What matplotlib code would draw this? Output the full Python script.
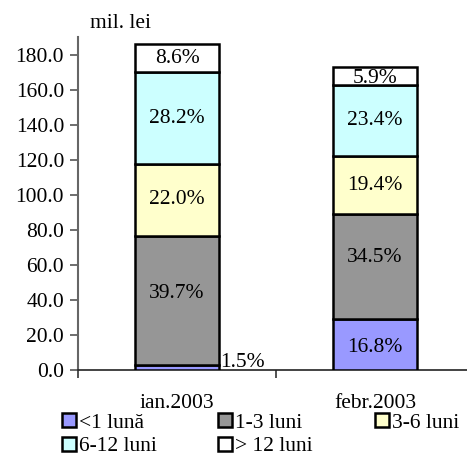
import matplotlib
matplotlib.use("Agg")
import matplotlib.pyplot as plt
from matplotlib.patches import Patch
import numpy as np

plt.rcParams['font.family'] = ['Liberation Serif', 'DejaVu Serif']

categories = ["ian.2003", "febr.2003"]
series_names = ["<1 lună", "1-3 luni", "3-6 luni", "6-12 luni", "> 12 luni"]
totals = [186.0, 173.0]
pct = {
    "<1 lună":   [1.5, 16.8],
    "1-3 luni":  [39.7, 34.5],
    "3-6 luni":  [22.0, 19.4],
    "6-12 luni": [28.2, 23.4],
    "> 12 luni": [8.6, 5.9],
}
colors = ["#9999FF", "#969696", "#FFFFCC", "#CCFFFF", "#FFFFFF"]
yticks = [0, 20, 40, 60, 80, 100, 120, 140, 160, 180]

# small vertical nudges of label positions (data units), style only
label_nudge = {("1-3 luni", 0): 4.0, ("1-3 luni", 1): 5.0, ("<1 lună", 1): -1.5,
               ("> 12 luni", 1): -1.8}

FS = 15.5
fig = plt.figure(figsize=(4.67, 4.57), dpi=100)
W, H = 467, 457
ax = fig.add_axes([78 / W, 1 - 370 / H, (474 - 78) / W, (370 - 37) / H])

x = np.arange(len(categories))
bottom = np.zeros(len(categories))
handles = []
for name, col in zip(series_names, colors):
    vals = np.array(pct[name]) / 100.0 * np.array(totals)
    ax.bar(x, vals, width=0.42, bottom=bottom, color=col, edgecolor="black",
           linewidth=1.8, zorder=3)
    for i in range(len(categories)):
        label = f"{pct[name][i]:.1f}%"
        dy = label_nudge.get((name, i), 0.0)
        if name == "<1 lună" and i == 0:
            ax.text(x[i] + 0.22, bottom[i] + vals[i] / 2 + 3, label,
                    ha="left", va="center", fontsize=FS, zorder=4)
        else:
            ax.text(x[i], bottom[i] + vals[i] / 2 + dy, label, ha="center",
                    va="center", fontsize=FS, zorder=4)
    bottom += vals
    handles.append(Patch(facecolor=col, edgecolor="black", linewidth=1.8, label=name))

ax.set_xlim(-0.5, 1.5)
ax.set_ylim(0, 190)
ax.set_yticks(yticks)
ax.set_yticklabels([f"{v:.1f}" for v in yticks], fontsize=FS)
ax.set_xticks([-0.5, 0.5, 1.5])
ax.set_xticklabels([])
ax.set_xticks(x, minor=True)
ax.set_xticklabels(categories, minor=True, fontsize=FS)
ax.tick_params(axis="x", which="minor", length=0, pad=17)
ax.tick_params(axis="x", which="major", length=6, width=1.2, direction="out", color="#333333")
ax.tick_params(axis="y", length=6, width=1.2, direction="out", color="#555555", pad=4)
for s in ["top", "right"]:
    ax.spines[s].set_visible(False)
ax.spines["left"].set_color("#666666")
ax.spines["left"].set_linewidth(1.5)
ax.spines["bottom"].set_color("#222222")
ax.spines["bottom"].set_linewidth(1.2)

fig.text(90 / W, 1 - 24 / H, "mil. lei", fontsize=FS, ha="left", va="center")

# legend in three columns, row-major order
col_x = [62, 218, 375]
groups = [[0, 3], [1, 4], [2]]
for cx, g in zip(col_x, groups):
    fig.legend(handles=[handles[k] for k in g], loc="upper left",
               bbox_to_anchor=(cx / W, 1 - 413 / H), frameon=False, fontsize=FS,
               handlelength=0.65, handleheight=0.65, handletextpad=0.15,
               labelspacing=0.18, borderpad=0, borderaxespad=0)

fig.savefig("out.png", dpi=100)
